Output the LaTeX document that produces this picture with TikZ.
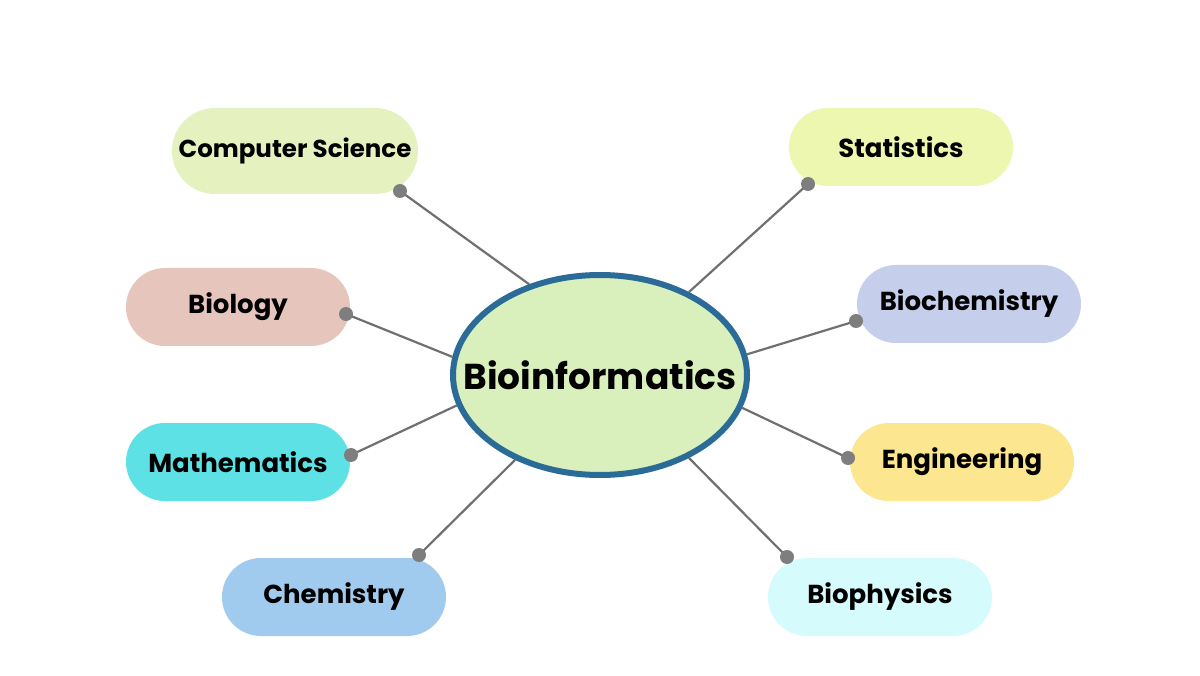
\documentclass[tikz,border=0pt]{standalone}
\usepackage{fontspec}
\setmainfont{Poppins}
\usepackage{tikz}
\usetikzlibrary{backgrounds,shapes.geometric}
\definecolor{hubfill}{HTML}{D9F0BC}
\definecolor{hubline}{HTML}{2A6B97}
\definecolor{linkgray}{HTML}{707070}
\definecolor{csfill}{HTML}{E5F2BF}
\definecolor{statfill}{HTML}{EEF7B0}
\definecolor{biofill}{HTML}{E6C5BD}
\definecolor{bchfill}{HTML}{C5CFEB}
\definecolor{mathfill}{HTML}{5EE1E5}
\definecolor{engfill}{HTML}{FCE68F}
\definecolor{chemfill}{HTML}{A0CBEF}
\definecolor{bphfill}{HTML}{D5FBFD}

\begin{document}
\begin{tikzpicture}[x=1pt,y=-1pt,line cap=round,
  pill/.style={rectangle,rounded corners=39pt,minimum width=224pt,minimum height=78pt,
    inner sep=0pt,font=\fontsize{26}{30}\selectfont\bfseries},
  hub/.style={ellipse,draw=hubline,line width=6pt,fill=hubfill,minimum width=294pt,
    minimum height=200pt,inner sep=0pt},
  hubtext/.style={inner sep=0pt,font=\fontsize{36}{42}\selectfont\bfseries},
  dot/.style={circle,fill=linkgray!90!white,inner sep=0pt,minimum size=14pt},
  link/.style={draw=linkgray,line width=2.2pt}]
\useasboundingbox (0,0) rectangle (1200,676);
% centre
\node[hub] (bioinf) at (600,375) {};
\node[hubtext] (bioinf-t) at (bioinf.center) {Bioinformatics};
% fields
\node[pill,fill=csfill,minimum width=246pt,minimum height=86pt,rounded corners=43pt,
  font=\fontsize{24.5}{28}\selectfont\bfseries] (cs) at (295,151) {Computer Science};
\node[pill,fill=statfill] (stat) at (901,147) {Statistics};
\node[pill,fill=biofill] (biol) at (238,307) {Biology};
\node[pill,fill=bchfill] (bchem) at (969,304) {Biochemistry};
\node[pill,fill=mathfill] (math) at (238,462) {Mathematics};
\node[pill,fill=engfill] (eng) at (962,462) {Engineering};
\node[pill,fill=chemfill] (chem) at (334,597) {Chemistry};
\node[pill,fill=bphfill] (bphys) at (880,597) {Biophysics};
% end points on the pills
\node[dot] (cs-d) at (400,191) {};
\node[dot] (stat-d) at (808,184) {};
\node[dot] (biol-d) at (346,314) {};
\node[dot] (bchem-d) at (856,321) {};
\node[dot] (math-d) at (351,455) {};
\node[dot] (eng-d) at (848,458) {};
\node[dot] (chem-d) at (419,555) {};
\node[dot] (bphys-d) at (787,557) {};
% connectors
\begin{scope}[on background layer]
\fill[white] (0,0) rectangle (1200,676);
\draw[link] (cs-d.center) -- (bioinf.128);
\draw[link] (stat-d.center) -- (bioinf.43);
\draw[link] (biol-d.center) -- (bioinf.173);
\draw[link] (bchem-d.center) -- (bioinf.8);
\draw[link] (math-d.center) -- (bioinf.192);
\draw[link] (eng-d.center) -- (bioinf.-13);
\draw[link] (chem-d.center) -- (bioinf.225);
\draw[link] (bphys-d.center) -- (bioinf.-43);
\end{scope}
\end{tikzpicture}
\end{document}
